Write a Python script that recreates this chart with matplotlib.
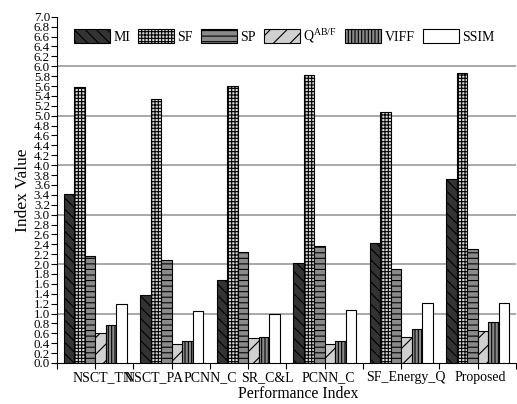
import numpy as np
import matplotlib
matplotlib.use("Agg")
import matplotlib.pyplot as plt

plt.rcParams['font.family'] = ['Liberation Serif', 'DejaVu Serif']
plt.rcParams['hatch.linewidth'] = 0.8

metrics = ["MI", "SF", "SP", r"Q$^{\mathregular{AB/F}}$", "VIFF", "SSIM"]

# printed category labels (7 labels under 6 groups, as in the source figure)
cat_labels = ["NSCT_TN", "NSCT_PA", "PCNN_C", "SR_C&L", "PCNN_C", "SF_Energy_Q", "Proposed"]
cat_label_x = [0.107, 0.765, 1.502, 2.252, 3.048, 4.065, 5.037]

mi   = [3.42, 1.38, 1.67, 2.03, 2.43, 3.73]
sf   = [5.58, 5.34, 5.61, 5.82, 5.08, 5.86]
sp   = [2.17, 2.08, 2.25, 2.37, 1.90, 2.31]
qabf = [0.60, 0.38, 0.50, 0.38, 0.53, 0.65]
viff = [0.76, 0.45, 0.53, 0.45, 0.68, 0.83]
ssim = [1.19, 1.06, 1.00, 1.07, 1.21, 1.21]

series = [mi, sf, sp, qabf, viff, ssim]
colors = ["#333333", "#d8d8d8", "#8a8a8a", "#d0d0d0", "#8a8a8a", "#ffffff"]
hatches = ["\\\\\\", "+++++", "---", "//", "|||||", ""]

fig = plt.figure(figsize=(5.17, 4.04), dpi=100)
ax = fig.add_axes([0.110, 0.1015, 0.888, 0.857])

x = np.arange(len(mi))
w = 0.137
for i, (vals, c, h, lab) in enumerate(zip(series, colors, hatches, metrics)):
    ax.bar(x + (i - 2.5) * w, vals, w, color=c, hatch=h, edgecolor="black",
           linewidth=0.8, label=lab, zorder=3)

for yv in range(1, 7):
    ax.axhline(yv, color="#999999", lw=1.2, zorder=1)

ax.set_xlim(-0.5, 5.5)
ax.set_ylim(0, 7)
yt = np.arange(0, 7.01, 0.2)
ax.set_yticks(yt)
ax.set_yticklabels(["%.1f" % v for v in yt], fontsize=9.3)
ax.tick_params(axis='y', direction='out', length=4, pad=1)

ax.set_xticks(np.arange(-0.5, 5.6, 0.5))
ax.set_xticklabels([])
ax.tick_params(axis='x', direction='out', length=4)
for lx, lab in zip(cat_label_x, cat_labels):
    ax.text(lx, -0.043, lab, transform=ax.get_xaxis_transform(), ha="center",
            va="center", fontsize=10)

ax.spines['top'].set_visible(False)
ax.spines['right'].set_visible(False)

ax.set_ylabel("Index Value", fontsize=12.5, labelpad=2)
fig.text(298 / 517, 1 - 394 / 404, "Performance Index", ha="center", va="center",
         fontsize=11.3)

ax.legend(loc="center", bbox_to_anchor=(0.495, 0.945), ncol=6, frameon=False,
          fontsize=10, handlelength=2.6, handleheight=1.15, columnspacing=0.6,
          handletextpad=0.22, borderaxespad=0, borderpad=0)

fig.savefig("out.png", dpi=100)
